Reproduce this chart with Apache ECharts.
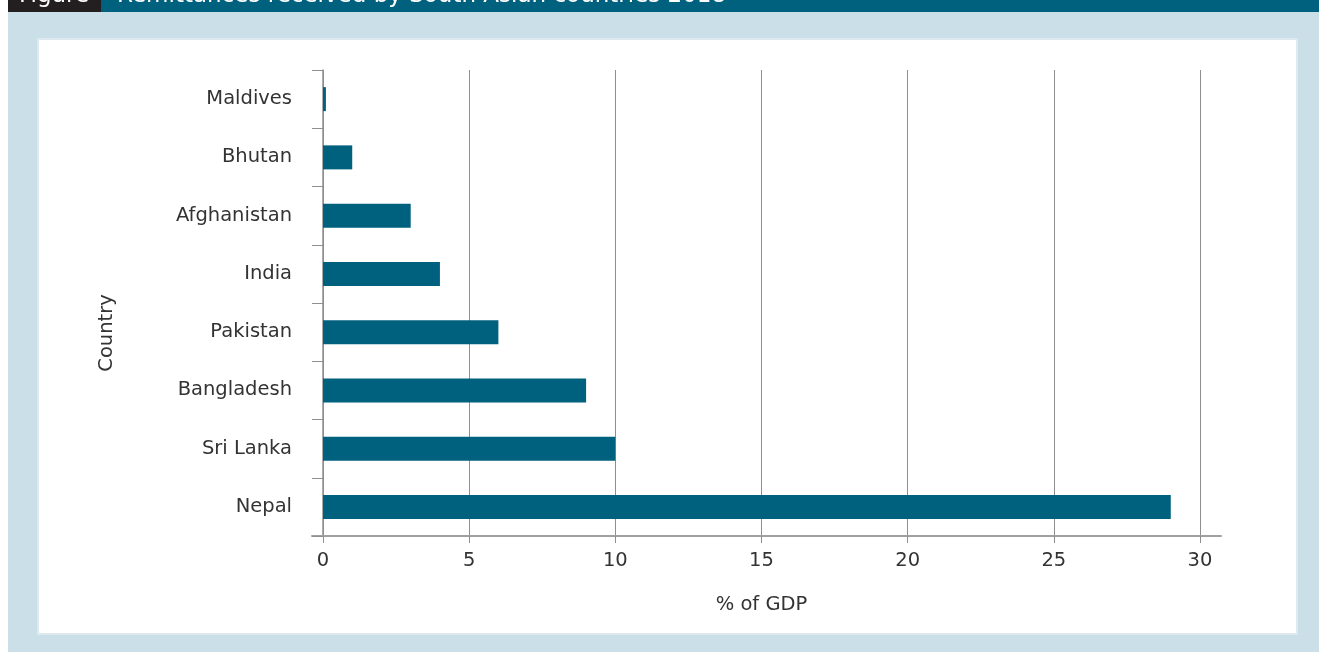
<!DOCTYPE html>
<html>
<head>
<meta charset="utf-8">
<script src="https://cdn.jsdelivr.net/npm/echarts@6/dist/echarts.min.js"></script>
<style>
html,body{margin:0;padding:0;background:#ffffff;}
#chart{width:1319px;height:652px;}
</style>
</head>
<body>
<div id="chart"></div>
<script>
// Data (top to bottom as shown)
const countries = ["Maldives", "Bhutan", "Afghanistan", "India", "Pakistan", "Bangladesh", "Sri Lanka", "Nepal"];
const remittancePctGDP = [0.1, 1, 3, 4, 6, 9, 10, 29];
const xTicks = [0, 5, 10, 15, 20, 25, 30];
const figureLabel = "Figure";
const figureTitle = "Remittances received by South Asian countries 2018";
const xAxisName = "% of GDP";
const yAxisName = "Country";

const FONT = "DejaVu Sans";
const FS = 19.5;
const TEXT = "#333333";
const GRID_GRAY = "#8f8f8f";
const BAR = "#00617f";

const chart = echarts.init(document.getElementById('chart'), null, {renderer: 'canvas'});

const option = {
  backgroundColor: '#ffffff',
  animation: false,
  graphic: [
    {type: 'rect', z: -10, shape: {x: 8, y: 0, width: 1311, height: 652}, style: {fill: '#cadfe7'}},
    {type: 'rect', z: -9, shape: {x: 8, y: 0, width: 93, height: 12}, style: {fill: '#231f20'}},
    {type: 'rect', z: -9, shape: {x: 101, y: 0, width: 1218, height: 12}, style: {fill: '#00617f'}},
    {type: 'text', z: -8, x: 19, y: 8, style: {text: figureLabel, fill: '#ffffff', font: '23px ' + FONT, textVerticalAlign: 'bottom'}},
    {type: 'text', z: -8, x: 117, y: 8, style: {text: figureTitle, fill: '#ffffff', font: '23px ' + FONT, textVerticalAlign: 'bottom'}},
    {type: 'rect', z: -9, shape: {x: 38, y: 39, width: 1259, height: 595}, style: {fill: '#ffffff', stroke: '#dde9ef', lineWidth: 2}}
  ],
  grid: [
    {left: 323, right: 119, top: 70, bottom: 116, containLabel: false},
    {left: 312, right: 98, top: 70, bottom: 116, containLabel: false}
  ],
  xAxis: [
    {
      type: 'value', gridIndex: 0, min: xTicks[0], max: xTicks[xTicks.length - 1], interval: 5,
      name: xAxisName, nameLocation: 'middle', nameGap: 59,
      nameTextStyle: {fontFamily: FONT, fontSize: FS, color: TEXT},
      axisLine: {show: false},
      axisTick: {show: true, length: 7, lineStyle: {color: GRID_GRAY, width: 1}},
      axisLabel: {fontFamily: FONT, fontSize: FS, color: TEXT, margin: 15},
      splitLine: {show: true, lineStyle: {color: GRID_GRAY, width: 1}}
    },
    {
      type: 'value', gridIndex: 1, min: 0, max: 1,
      axisLine: {show: true, onZero: false, lineStyle: {color: '#a0a0a0', width: 2}},
      axisTick: {show: false}, axisLabel: {show: false}, splitLine: {show: false}
    }
  ],
  yAxis: [
    {
      type: 'category', gridIndex: 0, data: countries, inverse: true,
      name: yAxisName, nameLocation: 'middle', nameGap: 206, nameRotate: 90,
      nameTextStyle: {fontFamily: FONT, fontSize: FS, color: TEXT, padding: [0, 60, 0, 0]},
      axisLine: {show: true, onZero: true, lineStyle: {color: GRID_GRAY, width: 1.5}},
      axisTick: {show: true, length: 11, lineStyle: {color: GRID_GRAY, width: 1}},
      axisLabel: {fontFamily: FONT, fontSize: FS, color: TEXT, margin: 31},
      splitLine: {show: false}
    },
    {
      type: 'value', gridIndex: 1, show: false, min: 0, max: 1
    }
  ],
  series: [
    {
      type: 'bar', xAxisIndex: 0, yAxisIndex: 0,
      data: remittancePctGDP,
      barWidth: 24,
      itemStyle: {color: BAR},
      silent: true
    }
  ]
};
chart.setOption(option);
</script>
</body>
</html>
